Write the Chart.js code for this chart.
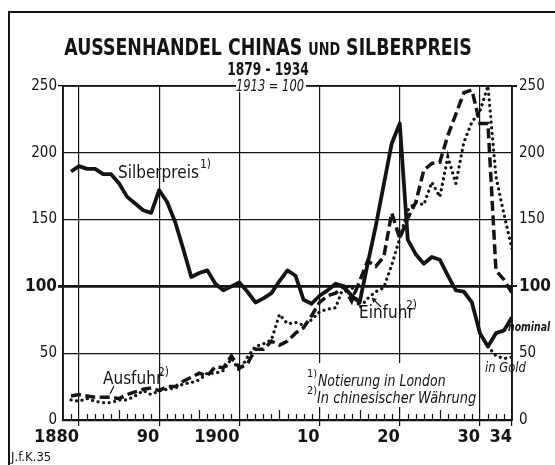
<!DOCTYPE html>
<html>
<head>
<meta charset="utf-8">
<script src="https://cdn.jsdelivr.net/npm/chart.js@4.4.1/dist/chart.umd.min.js"></script>
<style>
  html, body { margin: 0; padding: 0; background: #fff; }
  canvas { display: block; }
</style>
</head>
<body>
<canvas id="chart" width="555" height="465"></canvas>
<script>
// years of the series (1913 = 100)
const years = [1879, 1880, 1881, 1882, 1883, 1884, 1885, 1886, 1887, 1888,
  1889, 1890, 1891, 1892, 1893, 1894, 1895, 1896, 1897, 1898,
  1899, 1900, 1901, 1902, 1903, 1904, 1905, 1906, 1907, 1908,
  1909, 1910, 1911, 1912, 1913, 1914, 1915, 1916, 1917, 1918,
  1919, 1920, 1921, 1922, 1923, 1924, 1925, 1926, 1927, 1928,
  1929, 1930, 1931, 1932, 1933, 1934];

// silver price in London, nominal
const silberpreis = [186, 190, 188, 188, 184, 184, 177, 167, 162, 157,
  155, 172, 163, 148, 128, 107, 110, 112, 102, 97,
  100, 103, 96, 88, 91, 95, 104, 112, 108, 90,
  87, 93, 97, 102, 100, 93, 88, 117, 145, 176,
  207, 222, 135, 124, 117, 122, 120, 108, 97, 96,
  88, 65, 55, 65, 67, 77];

// silver price in gold (only after 1931)
const silberpreisGold = [null, null, null, null, null, null, null, null, null, null,
  null, null, null, null, null, null, null, null, null, null,
  null, null, null, null, null, null, null, null, null, null,
  null, null, null, null, null, null, null, null, null, null,
  null, null, null, null, null, null, null, null, null, null,
  null, null, 55, 48, 46, 47];

// imports (dotted)
const einfuhr = [15, 14, 16, 14, 13, 13, 15, 15, 18, 22,
  19, 22, 23, 24, 27, 28, 30, 35, 35, 37,
  46, 37, 47, 55, 57, 60, 79, 72, 73, 71,
  75, 81, 83, 84, 100, 100, 84, 91, 96, 99,
  116, 136, 157, 163, 161, 178, 167, 197, 177, 208,
  223, 231, 250, 182, 154, 128];

// exports (dashed)
const ausfuhr = [18, 19, 18, 17, 17, 17, 16, 19, 21, 23,
  24, 22, 25, 25, 29, 32, 35, 33, 40, 39,
  48, 39, 42, 53, 53, 59, 56, 59, 65, 69,
  78, 88, 93, 95, 100, 89, 104, 119, 115, 122,
  155, 136, 151, 163, 187, 192, 193, 213, 229, 245,
  247, 222, 222, 112, 105, 95];

const xTickValues = [1880, 1890, 1900, 1910, 1920, 1930, 1934];
const xTickLabels = ['1880', '90', '1900', '10', '20', '30', '34'];
const yTickValues = [0, 50, 100, 150, 200, 250];

const NARROW = '"Liberation Sans Narrow", "DejaVu Sans Condensed", "Arial Narrow", sans-serif';
const INK = '#141414';

function points(values) {
  return years.map((yr, i) => ({ x: yr, y: values[i] }));
}

function yFont(ctx) {
  if (ctx.tick && ctx.tick.value === 100) {
    return { family: NARROW, size: 17, weight: 'bold' };
  }
  return { family: NARROW, size: 15 };
}

// text squeezed horizontally, the original lettering is narrow
function narrowText(ctx, text, x, y, sx, align) {
  ctx.save();
  ctx.translate(x, y);
  ctx.scale(sx, 1);
  ctx.textAlign = align || 'left';
  ctx.fillText(text, 0, 0);
  ctx.restore();
}

// frame, year ticks, titles and notes
const decor = {
  id: 'decor',
  beforeDraw(chart) {
    const ctx = chart.ctx;
    ctx.save();
    ctx.fillStyle = '#fff';
    ctx.fillRect(0, 0, chart.width, chart.height);
    ctx.restore();
  },
  beforeDatasetsDraw(chart) {
    const { ctx, chartArea: a, scales: { x } } = chart;
    ctx.save();
    ctx.strokeStyle = INK;
    ctx.lineWidth = 1.2;
    ctx.beginPath();
    for (let yr = 1879; yr < 1934; yr++) {
      if (yr % 10 === 0) continue;
      const px = Math.round(x.getPixelForValue(yr)) + 0.5;
      const len = yr % 5 === 0 ? 10 : 6;
      ctx.moveTo(px, a.bottom);
      ctx.lineTo(px, a.bottom - len);
    }
    ctx.stroke();

    // plot frame
    ctx.lineWidth = 1.6;
    ctx.strokeRect(a.left, a.top, a.right - a.left, a.bottom - a.top);

    // white box behind the footnotes
    ctx.fillStyle = '#fff';
    ctx.fillRect(304, 363, 172, 44);
    ctx.restore();
  },
  afterDraw(chart) {
    const ctx = chart.ctx;
    ctx.save();
    ctx.fillStyle = INK;
    ctx.strokeStyle = INK;
    ctx.textBaseline = 'alphabetic';

    // outer frame
    ctx.lineWidth = 2;
    ctx.strokeRect(9, 12, 560, 470);

    // title, "UND" in small capitals
    const sq = 0.84;
    const big = 'bold 23px ' + NARROW;
    const small = 'bold 17px ' + NARROW;
    const p1 = 'AUSSENHANDEL CHINAS ';
    const p2 = 'UND';
    const p3 = ' SILBERPREIS';
    ctx.font = big;
    const w1 = ctx.measureText(p1).width * sq;
    const w3 = ctx.measureText(p3).width * sq;
    ctx.font = small;
    const w2 = ctx.measureText(p2).width * sq;
    const tx = 268 - (w1 + w2 + w3) / 2;
    ctx.font = big;
    narrowText(ctx, p1, tx, 55, sq);
    ctx.font = small;
    narrowText(ctx, p2, tx + w1, 55, sq);
    ctx.font = big;
    narrowText(ctx, p3, tx + w1 + w2, 55, sq);

    ctx.font = 'bold 17px ' + NARROW;
    narrowText(ctx, '1879 - 1934', 268, 75, 0.8, 'center');

    // base note on the top border
    ctx.fillStyle = '#fff';
    ctx.fillRect(236, 80, 70, 12);
    ctx.fillStyle = INK;
    ctx.font = 'italic 15px ' + NARROW;
    narrowText(ctx, '1913 = 100', 270, 91, 0.85, 'center');

    // series labels
    ctx.font = '17px ' + NARROW;
    ctx.fillText('Silberpreis', 118, 178);
    ctx.fillText('Ausfuhr', 103, 384);
    ctx.fillText('Einfuhr', 359, 318);
    ctx.font = '12px ' + NARROW;
    ctx.fillText('1)', 200, 168);
    ctx.fillText('2)', 158, 376);
    ctx.fillText('2)', 406, 309);

    // pointers
    ctx.lineWidth = 1.2;
    ctx.beginPath();
    ctx.moveTo(114, 386);
    ctx.lineTo(110, 394);
    ctx.moveTo(381, 307);
    ctx.lineTo(372, 298);
    ctx.stroke();
    ctx.beginPath();
    ctx.moveTo(372, 298);
    ctx.lineTo(377, 299);
    ctx.lineTo(373, 303);
    ctx.closePath();
    ctx.fill();

    // footnotes
    ctx.font = '11px ' + NARROW;
    ctx.fillText('1)', 307, 377);
    ctx.fillText('2)', 307, 394);
    ctx.font = 'italic 16px ' + NARROW;
    narrowText(ctx, 'Notierung in London', 318, 386, 0.87);
    narrowText(ctx, 'In chinesischer Währung', 317, 403, 0.9);

    ctx.font = 'italic bold 13px ' + NARROW;
    narrowText(ctx, 'nominal', 508, 331, 0.8);
    ctx.font = 'italic 14px ' + NARROW;
    narrowText(ctx, 'in Gold', 485, 372, 0.92);

    ctx.font = '13px ' + NARROW;
    ctx.fillText('J.f.K.35', 11, 461);
    ctx.restore();
  }
};

const lineBase = {
  borderColor: INK,
  backgroundColor: INK,
  borderWidth: 3.5,
  pointRadius: 0,
  tension: 0,
  fill: false
};

new Chart(document.getElementById('chart'), {
  type: 'line',
  data: {
    datasets: [
      Object.assign({}, lineBase, {
        label: 'Einfuhr',
        data: points(einfuhr),
        borderWidth: 3.2,
        borderDash: [0.1, 5.5],
        borderCapStyle: 'round'
      }),
      Object.assign({}, lineBase, {
        label: 'Ausfuhr',
        data: points(ausfuhr),
        borderDash: [10, 4.5],
        borderCapStyle: 'butt'
      }),
      Object.assign({}, lineBase, {
        label: 'Silberpreis in Gold',
        data: points(silberpreisGold),
        borderWidth: 3.2,
        borderDash: [0.1, 5.5],
        borderCapStyle: 'round'
      }),
      Object.assign({}, lineBase, {
        label: 'Silberpreis',
        data: points(silberpreis),
        borderWidth: 3.8,
        borderJoinStyle: 'round'
      })
    ]
  },
  options: {
    responsive: false,
    animation: false,
    layout: { padding: { top: 86, left: 0, right: 0, bottom: 0 } },
    plugins: {
      legend: { display: false },
      tooltip: { enabled: false }
    },
    scales: {
      x: {
        type: 'linear',
        min: 1878,
        max: 1934,
        afterBuildTicks: s => { s.ticks = xTickValues.map(v => ({ value: v })); },
        afterFit: s => { s.height = 45; },
        grid: { color: INK, lineWidth: 1.2, tickLength: 6 },
        border: { display: false },
        ticks: {
          autoSkip: false,
          maxRotation: 0,
          align: 'end',
          padding: 1,
          color: INK,
          font: { family: NARROW, size: 18, weight: 'bold' },
          callback: v => xTickLabels[xTickValues.indexOf(v)]
        }
      },
      y: {
        position: 'left',
        min: 0,
        max: 250,
        afterBuildTicks: s => { s.ticks = yTickValues.map(v => ({ value: v })); },
        afterFit: s => { s.width = 63; },
        grid: {
          color: INK,
          lineWidth: c => (c.tick.value === 100 ? 2.8 : (c.tick.value === 0 ? 2.2 : 1.3)),
          tickLength: 5,
          tickColor: c => ((c.tick.value === 100 || c.tick.value === 250) ? INK : 'rgba(0,0,0,0)')
        },
        border: { display: true, color: INK, width: 1.6 },
        ticks: { color: INK, padding: 1, font: yFont }
      },
      y2: {
        position: 'right',
        min: 0,
        max: 250,
        afterBuildTicks: s => { s.ticks = yTickValues.map(v => ({ value: v })); },
        afterFit: s => { s.width = 43; },
        grid: {
          drawOnChartArea: false,
          color: INK,
          lineWidth: 2,
          tickLength: 5,
          tickColor: c => ((c.tick.value === 100 || c.tick.value === 250) ? INK : 'rgba(0,0,0,0)')
        },
        border: { display: true, color: INK, width: 1.6 },
        ticks: { color: INK, padding: 2, font: yFont }
      }
    }
  },
  plugins: [decor]
});
</script>
</body>
</html>
